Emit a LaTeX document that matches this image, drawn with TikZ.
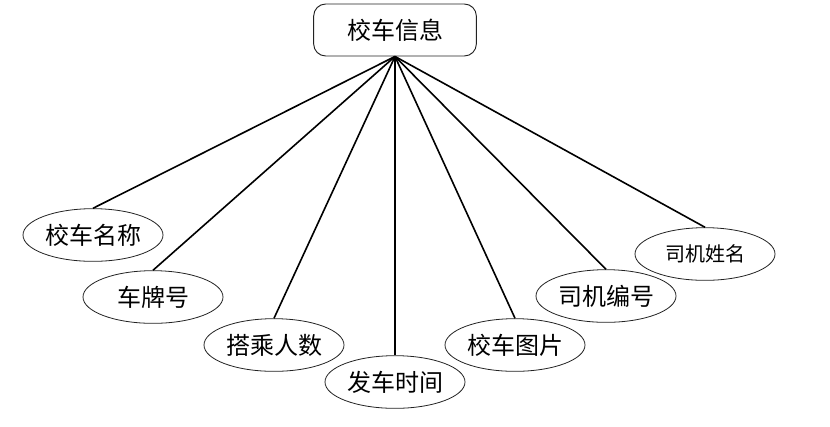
\documentclass[tikz,border=0pt]{standalone}
\usepackage{fontspec}
\setmainfont{Noto Sans CJK SC}
\usepackage{tikz}
\usetikzlibrary{shapes.geometric}
\definecolor{edgegray}{HTML}{222222}

\begin{document}
\begin{tikzpicture}[
    x=0.75pt,
    y=-0.75pt,
    entity/.style={rectangle, rounded corners=9pt, draw=edgegray, line width=0.7pt, minimum width=122pt, minimum height=39pt, inner sep=0pt, font=\fontsize{18}{20}\selectfont},
    attr/.style={ellipse, draw=edgegray, line width=0.6pt, minimum width=105pt, minimum height=39.5pt, inner sep=0pt, font=\fontsize{18}{20}\selectfont},
    link/.style={line width=1.2pt, draw=black}
  ]
    \useasboundingbox (0,0) rectangle (830,426);
    \node[entity] (bus) at (395,30) {校车信息};
    \node[attr] (name) at (93,235) {校车名称};
    \node[attr] (plate) at (153,297) {车牌号};
    \node[attr] (seats) at (274,345) {搭乘人数};
    \node[attr] (depart) at (395,382) {发车时间};
    \node[attr] (photo) at (515,345) {校车图片};
    \node[attr] (driverid) at (606,296) {司机编号};
    \node[attr, font=\fontsize{15}{17}\selectfont] (driver) at (705,254) {司机姓名};

    \draw[link] (bus.south) -- (name.north);
    \draw[link] (bus.south) -- (plate.north);
    \draw[link] (bus.south) -- (seats.north);
    \draw[link] (bus.south) -- (depart.north);
    \draw[link] (bus.south) -- (photo.north);
    \draw[link] (bus.south) -- (driverid.north);
    \draw[link] (bus.south) -- (driver.north);
  \end{tikzpicture}
\end{document}
